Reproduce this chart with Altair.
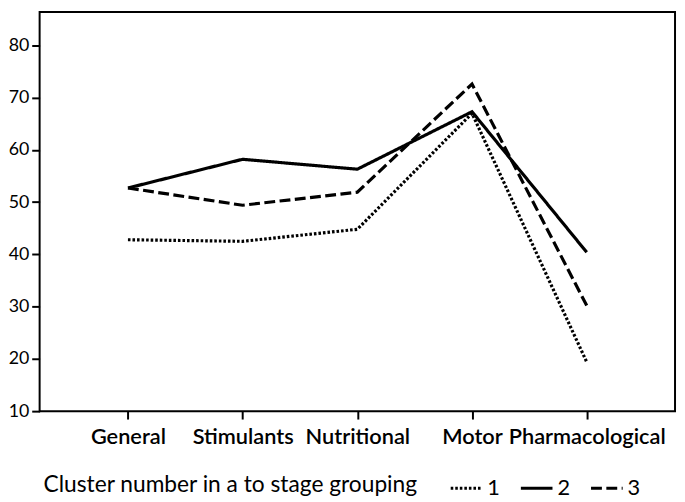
import altair as alt
import pandas as pd

categories = ["General", "Stimulants", "Nutritional", "Motor", "Pharmacological"]
cluster_names = ["1", "2", "3"]
cluster1 = [42.8, 42.5, 44.8, 67.0, 19.4]
cluster2 = [52.7, 58.2, 56.3, 67.3, 40.4]
cluster3 = [52.7, 49.4, 51.9, 72.6, 30.2]
y_ticks = [10, 20, 30, 40, 50, 60, 70, 80]

rows = []
for name, vals in zip(cluster_names, [cluster1, cluster2, cluster3]):
    for i, (c, v) in enumerate(zip(categories, vals)):
        rows.append({"category": c, "value": v, "cluster": name, "order": i})
df = pd.DataFrame(rows)

FONT = "Lato"

chart = alt.Chart(df).mark_line(color="black", strokeWidth=3.2, strokeCap="butt", strokeJoin="miter").encode(
    x=alt.X("category:N", sort=categories,
            scale=alt.Scale(type="point", padding=0.77),
            axis=alt.Axis(title=None, labelAngle=0, labelFontSize=22, labelFontWeight=600,
                          labelFont=FONT, labelColor="black", tickSize=8, tickWidth=2,
                          tickColor="black", labelPadding=8, domain=False, grid=False,
                          labelLimit=300)),
    y=alt.Y("value:Q", scale=alt.Scale(domain=[10, 86.4], nice=False, zero=False),
            axis=alt.Axis(title=None, values=y_ticks, labelFontSize=18, labelFont=FONT,
                          labelColor="black", tickSize=8, tickWidth=2, tickColor="black",
                          labelPadding=3, domain=False, grid=False)),
    strokeDash=alt.StrokeDash("cluster:N",
        scale=alt.Scale(domain=cluster_names, range=[[2.6, 2.0], [1, 0], [11, 4.5]]),
        legend=alt.Legend(title="Cluster number in a to stage grouping", orient="none",
                          legendX=4, legendY=464, direction="horizontal", titleOrient="left",
                          titleFontSize=23, titleFont=FONT, titleFontWeight="normal",
                          titleColor="black", titleLimit=600, labelFontSize=22, labelFont=FONT,
                          labelColor="black", symbolType="stroke", symbolSize=1024,
                          symbolStrokeWidth=3.2, symbolStrokeColor="black",
                          columnPadding=14, labelOffset=3, titlePadding=30,
                          titleBaseline="middle")),
    order="order:Q",
).properties(
    width=643, height=404,
    autosize=alt.AutoSizeParams(type="none"),
    padding={"left": 32, "top": 1, "right": 2, "bottom": 90},
).configure_view(stroke="black", strokeWidth=2)

chart.save("out.html", embed_options={"renderer": "svg", "actions": False})
